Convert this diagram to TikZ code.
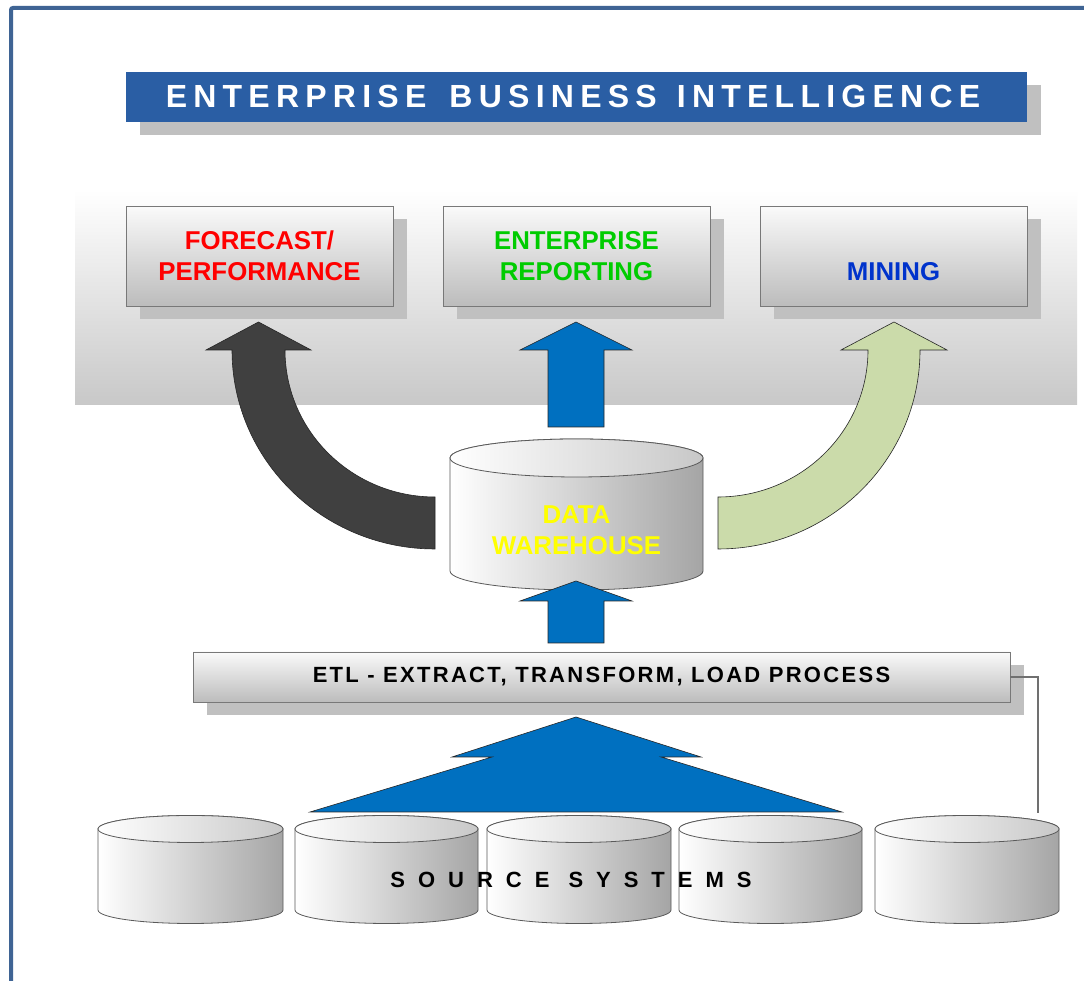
\documentclass[tikz,border=0pt]{standalone}
\usepackage{fontspec}
\setmainfont{Liberation Sans}
\newfontfamily\tsp[LetterSpace=19.5]{Liberation Sans}
\newfontfamily\esp[LetterSpace=10.5]{Liberation Sans}
\newfontfamily\ssp[LetterSpace=59]{Liberation Sans}
\usetikzlibrary{shadows}
\definecolor{framec}{RGB}{63,100,148}
\definecolor{bannerc}{RGB}{42,94,164}
\definecolor{shgray}{RGB}{192,192,192}
\definecolor{bandB}{RGB}{200,200,200}
\definecolor{boxT}{RGB}{250,250,250}
\definecolor{boxB}{RGB}{188,188,188}
\definecolor{boxline}{RGB}{120,120,120}
\definecolor{darkarrow}{RGB}{64,64,64}
\definecolor{greenarrow}{RGB}{203,219,170}
\definecolor{bluearrow}{RGB}{0,112,192}
\definecolor{cylR}{RGB}{165,165,165}
\definecolor{cylT}{RGB}{200,200,200}
\definecolor{cylline}{RGB}{90,90,90}
\definecolor{redtxt}{RGB}{255,0,0}
\definecolor{greentxt}{RGB}{0,204,0}
\definecolor{bluetxt}{RGB}{0,51,204}
\definecolor{yellowtxt}{RGB}{255,255,0}
\definecolor{linkgray}{RGB}{112,112,112}

% #1 name, #2 x left, #3 x right, #4 y of top centre, #5 y of bottom centre, #6 y radius
\newcommand\mkcyl[6]{%
  \pgfmathsetmacro\cylrx{(#3-#2)/2}%
  \shadedraw[left color=white, right color=cylR, draw=cylline, line width=0.8pt]
    (#2,#4) -- (#2,#5) arc[start angle=180, end angle=360, x radius=\cylrx pt, y radius=#6pt]
    -- (#3,#4) arc[start angle=0, end angle=180, x radius=\cylrx pt, y radius=#6pt] -- cycle;
  \shadedraw[left color=white, right color=cylT, draw=cylline, line width=0.8pt]
    ({(#2+#3)/2},#4) ellipse[x radius=\cylrx pt, y radius=#6pt];
  \coordinate (#1) at ({(#2+#3)/2},{(#4+#5)/2});
}

\begin{document}
\begin{tikzpicture}[x=1pt,y=1pt,
  shadowed/.style={drop shadow={shadow xshift=13.5pt,shadow yshift=-13.5pt,fill=shgray,opacity=1}},
  panel/.style={shadowed, draw=boxline, line width=0.9pt, top color=boxT, bottom color=boxB, inner sep=0pt},
  boxtxt/.style={font={\bfseries\fontsize{25.8}{31}\selectfont}, align=center},
  blockarrow/.style={draw=black!85, line width=0.6pt, line join=miter},
  linkline/.style={draw=linkgray, line width=1.3pt}
]
\useasboundingbox (0,0) rectangle (1084,981);
\fill[white] (0,0) rectangle (1084,981);

% frame
\draw[framec, line width=4pt, rounded corners=2pt] (11,-5) -- (11,973) -- (1090,973);

% title banner
\node[shadowed, fill=bannerc, minimum width=901pt, minimum height=50pt, inner sep=0pt] (title) at (576.5,884) {};
\node[text=white, inner sep=0pt, font={\tsp\bfseries\fontsize{32}{38}\selectfont}] (titletxt)
      at ([xshift=-3.5pt]title.center) {ENTERPRISE\hspace{8pt} BUSINESS\hspace{5pt} INTELLIGENCE};

% gray band
\shade[top color=white, bottom color=bandB] (75,576) rectangle (1077,791);

% top boxes
\node[panel, minimum width=267pt, minimum height=100pt, boxtxt, text=redtxt] (box1) at (259.5,725)
      {FORECAST/\\PERFORMANCE};
\node[panel, minimum width=267pt, minimum height=100pt, boxtxt, text=greentxt] (box2) at (576.5,725)
      {ENTERPRISE\\REPORTING};
\node[panel, minimum width=267pt, minimum height=100pt, boxtxt, text=bluetxt] (box3) at (893.5,725)
      {\vphantom{E}\\MINING};

% curved arrows
\fill[darkarrow, blockarrow] (435,432)
   arc[start angle=270, end angle=180, x radius=203pt, y radius=199pt]
   -- (206,631) -- (258.5,659) -- (311,631) -- (285,631)
   arc[start angle=180, end angle=270, x radius=150pt, y radius=147pt] -- cycle;
\fill[greenarrow, blockarrow] (718,432)
   arc[start angle=270, end angle=360, x radius=202pt, y radius=199pt]
   -- (947,631) -- (894,659) -- (841,631) -- (868,631)
   arc[start angle=0, end angle=-90, x radius=150pt, y radius=147pt] -- cycle;

% straight blue arrow to reporting
\fill[bluearrow, blockarrow] (548,554) -- (548,631) -- (520,631) -- (576,659) -- (632,631)
   -- (604,631) -- (604,554) -- cycle;

% data warehouse
\mkcyl{dwcyl}{450}{703}{523}{410}{19}
\node[boxtxt, text=yellowtxt] (dw) at (576.5,451) {DATA\\WAREHOUSE};

% blue arrow ETL -> DW
\fill[bluearrow, blockarrow] (548,338) -- (548,380) -- (520,380) -- (576,400) -- (632,380)
   -- (604,380) -- (604,338) -- cycle;

% ETL bar
\node[panel, minimum width=817pt, minimum height=50pt,
      font={\esp\bfseries\fontsize{22}{26}\selectfont}] (etl) at (601.5,304)
      {ETL - EXTRACT, TRANSFORM, LOAD PROCESS};

% big arrow from sources
\fill[bluearrow, blockarrow] (576,264) -- (452,224) -- (492,224) -- (310,169) -- (842,169)
   -- (661,224) -- (701,224) -- cycle;

% source systems
\mkcyl{src1}{98}{283}{152}{71}{13.5}
\mkcyl{src2}{295}{478}{152}{71}{13.5}
\mkcyl{src3}{487}{671}{152}{71}{13.5}
\mkcyl{src4}{679}{862}{152}{71}{13.5}
\mkcyl{src5}{875}{1059}{152}{71}{13.5}
\node[font={\ssp\bfseries\fontsize{22}{26}\selectfont}] (src) at (571,101) {SOURCE SYSTEMS};

% link line
\coordinate (c5line) at (1038,168);
\draw[linkline] (etl.east) -| (c5line);
\end{tikzpicture}
\end{document}
